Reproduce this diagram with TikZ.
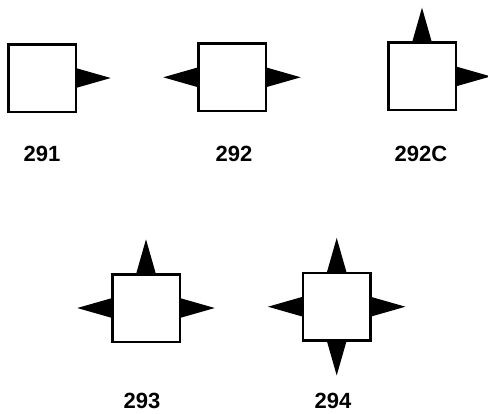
\documentclass[tikz,border=0pt]{standalone}
\usepackage{fontspec}
\setmainfont{Liberation Sans}
\begin{document}
\begin{tikzpicture}[x=1pt,y=-1pt,
  sq/.style={draw=black,fill=white,line width=2.5pt,minimum size=67.5pt,inner sep=0pt,outer sep=0pt},
  lbl/.style={font=\bfseries\fontsize{22}{22}\selectfont,inner sep=0pt},
  tip/.style={fill=black}]
\useasboundingbox (0,0) rectangle (488,413);
% triangles helpers
\newcommand{\tipE}[1]{\fill[tip] (#1.east) ++(0,-10) -- ++(35,10) -- ++(-35,10) -- cycle;}
\newcommand{\tipW}[1]{\fill[tip] (#1.west) ++(0,-10) -- ++(-35,10) -- ++(35,10) -- cycle;}
\newcommand{\tipN}[1]{\fill[tip] (#1.north) ++(-10,0) -- ++(10,-35) -- ++(10,35) -- cycle;}
\newcommand{\tipS}[1]{\fill[tip] (#1.south) ++(-10,0) -- ++(10,35) -- ++(10,-35) -- cycle;}
% boxes
\node[sq] (b291) at (42,78) {};
\node[sq] (b292) at (232,77.3) {};
\node[sq] (b292c) at (422,76.4) {};
\node[sq] (b293) at (146,308) {};
\node[sq] (b294) at (336.7,306.7) {};
% pointers
\tipE{b291}
\tipE{b292}\tipW{b292}
\tipE{b292c}\tipN{b292c}
\tipE{b293}\tipW{b293}\tipN{b293}
\tipE{b294}\tipW{b294}\tipN{b294}\tipS{b294}
% redraw boxes on top
\node[sq] at (b291) {};
\node[sq] at (b292) {};
\node[sq] at (b292c) {};
\node[sq] at (b293) {};
\node[sq] at (b294) {};
% labels
\node[lbl] (l291) at (42,154) {291};
\node[lbl] (l292) at (234,154) {292};
\node[lbl] (l292c) at (421,154) {292C};
\node[lbl] (l293) at (142,401) {293};
\node[lbl] (l294) at (333,401) {294};
\end{tikzpicture}
\end{document}
